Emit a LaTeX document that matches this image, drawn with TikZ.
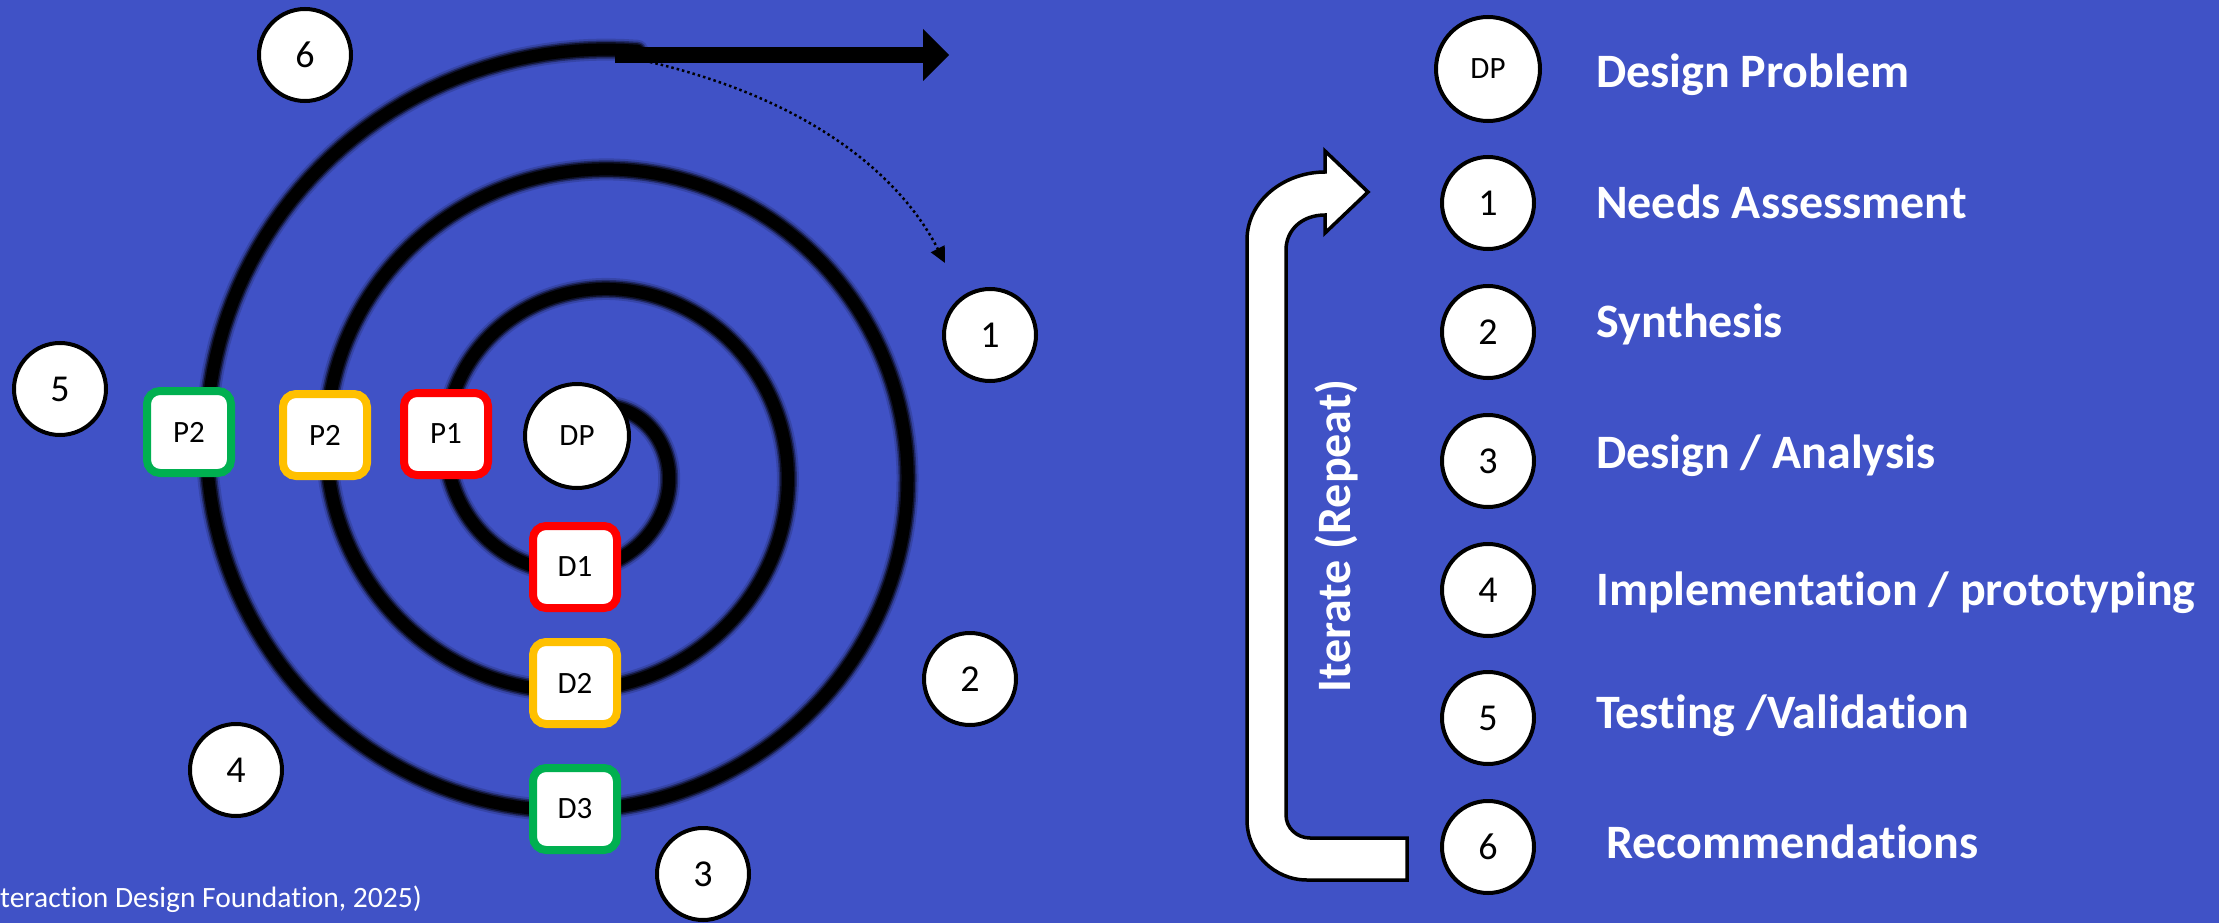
\documentclass[tikz,border=0pt]{standalone}
\usepackage{fontspec}
\setmainfont{Carlito}[Ligatures=NoCommon]
\usetikzlibrary{arrows.meta}
\definecolor{bgblue}{RGB}{64,82,198}
\definecolor{bred}{RGB}{255,0,0}
\definecolor{byellow}{RGB}{255,192,0}
\definecolor{bgreen}{RGB}{0,176,80}
\begin{document}
\begin{tikzpicture}[x=1pt,y=-1pt,
  numc/.style={circle,draw=black,fill=white,line width=4pt,minimum size=92pt,inner sep=0pt,font=\fontsize{38}{40}\selectfont},
  dpc/.style={numc,minimum size=104pt,font=\fontsize{31}{34}\selectfont},
  sbox/.style={draw=#1,fill=white,line width=8pt,rounded corners=13pt,minimum width=84pt,minimum height=82pt,inner sep=0pt,font=\fontsize{31}{34}\selectfont},
  lbl/.style={anchor=base west,inner sep=0pt,text=white,font=\bfseries\fontsize{48}{52}\selectfont}
]
\fill[bgblue] (0,0) rectangle (2219,923);
\useasboundingbox (0,0) rectangle (2219,923);

% Archimedean spiral, centre (587,460), pitch 120 per turn (soft edges by layered strokes)
\foreach \w/\o in {22/0.15,18/0.35,15/0.6,12/1}{
\draw[black,line width=\w pt,opacity=\o,line cap=round,line join=round]
 plot[domain=-0.2:2.775,samples=500,variable=\t]
 ({587+(80+120*\t)*cos(360*\t)},{460+(80+120*\t)*sin(360*\t)});
}

% big arrow
\coordinate (aS) at (615,55);
\coordinate (aB) at (923,55);
\coordinate (aT) at (949,55);
\draw[black,line width=16pt] (aS) -- (aB);
\fill[black] (923,29) -- (aT) -- (923,81) -- cycle;

% dotted arrow
\coordinate (dS) at (650,62);
\coordinate (dE) at (945,263);
\draw[black,line width=2.5pt,dash pattern=on 2.5pt off 3pt,-{Triangle[length=16pt,width=15pt]}]
 (dS) .. controls (810,100) and (900,175) .. (dE);

% left diagram nodes
\node[numc] (c6) at (305,55) {6};
\node[numc] (c5) at (60,389) {5};
\node[numc] (c1) at (990,335) {1};
\node[numc] (c2) at (970,679) {2};
\node[numc] (c4) at (236,770) {4};
\node[numc] (c3) at (703,874) {3};
\node[dpc] (dpl) at (577,436) {DP};
\node[sbox=bgreen] (p2g) at (189,432) {P2};
\node[sbox=byellow] (p2y) at (325,435) {P2};
\node[sbox=bred] (p1) at (446,434) {P1};
\node[sbox=bred] (d1) at (575,567) {D1};
\node[sbox=byellow] (d2) at (575,683) {D2};
\node[sbox=bgreen] (d3) at (575,809) {D3};

\node[anchor=base west,inner sep=0pt,text=white,font=\fontsize{29.5}{32}\selectfont] (src) at (0,907) {teraction Design Foundation, 2025)};

% iterate arrow
\draw[fill=white,line width=3.5pt,line join=miter]
 (1407,880) -- (1307,880) .. controls (1274,880) and (1247,853) .. (1247,820)
 -- (1247,240) .. controls (1247,200) and (1285,172) .. (1325,172)
 -- (1325,151) -- (1368,192) -- (1325,233) -- (1325,215)
 .. controls (1302,215) and (1286,230) .. (1286,250)
 -- (1286,815) .. controls (1286,828) and (1297,838) .. (1310,838)
 -- (1407,838) -- cycle;
\node[rotate=90,inner sep=0pt,text=white,font=\bfseries\fontsize{48}{52}\selectfont] (iter) at (1336,536) {Iterate (Repeat)};

% right legend
\node[dpc] (rdp) at (1488,69) {DP};
\node[numc] (r1) at (1488,203) {1};
\node[numc] (r2) at (1488,332) {2};
\node[numc] (r3) at (1488,461) {3};
\node[numc] (r4) at (1488,590) {4};
\node[numc] (r5) at (1488,718) {5};
\node[numc] (r6) at (1488,847) {6};
\node[lbl] (l0) at (1596,88) {Design Problem};
\node[lbl] (l1) at (1596,218) {Needs Assessment};
\node[lbl] (l2) at (1596,337) {Synthesis};
\node[lbl] (l3) at (1596,468) {Design / Analysis};
\node[lbl] (l4) at (1596,605) {Implementation / prototyping};
\node[lbl] (l5) at (1596,728) {Testing /Validation};
\node[lbl] (l6) at (1606,858) {Recommendations};
\end{tikzpicture}
\end{document}
